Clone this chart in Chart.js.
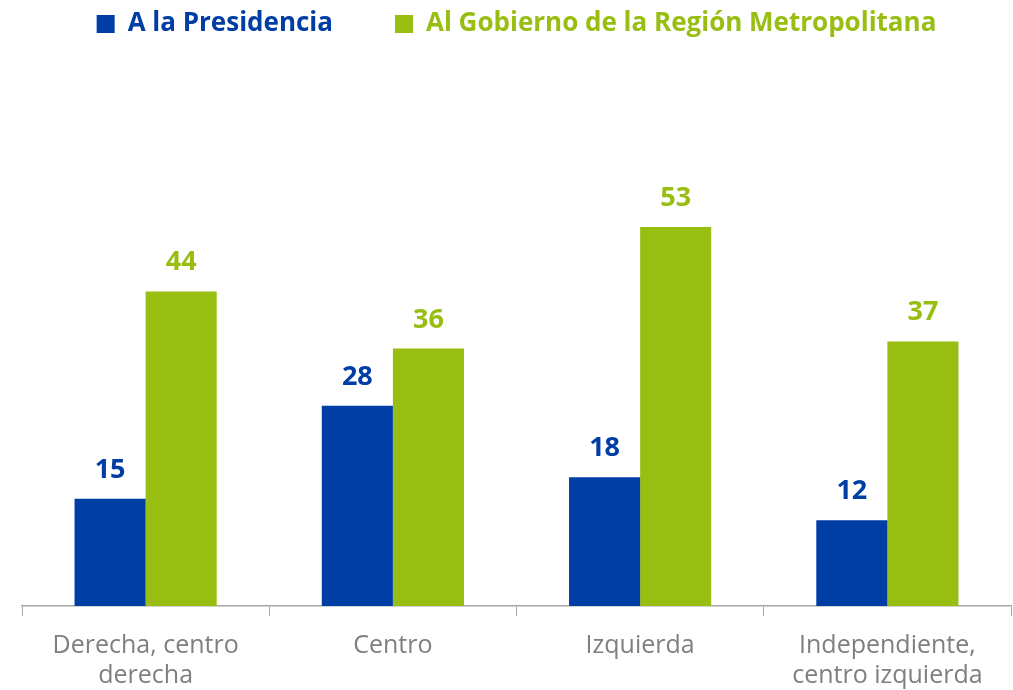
<!DOCTYPE html>
<html>
<head>
<meta charset="utf-8">
<script src="https://cdn.jsdelivr.net/npm/chart.js@4"></script>
<style>
  html, body { margin: 0; padding: 0; background: #fff; }
  #wrap { width: 1013px; height: 690px; }
</style>
</head>
<body>
<div id="wrap"><canvas id="chart"></canvas></div>
<script>
const categories = [['Derecha, centro', 'derecha'], 'Centro', 'Izquierda', ['Independiente,', 'centro izquierda']];
const seriesNames = ['A la Presidencia', 'Al Gobierno de la Región Metropolitana'];
const presidencia = [15, 28, 18, 12];
const gobiernoRM = [44, 36, 53, 37];

const BLUE = '#003DA5';
const GREEN = '#97BE11';
const FONT = '"Open Sans", Lato, sans-serif';

// bar value labels
const valueLabels = {
    id: 'valueLabels',
    afterDatasetsDraw(chart) {
        const ctx = chart.ctx;
        ctx.save();
        ctx.textAlign = 'center';
        ctx.textBaseline = 'alphabetic';
        ctx.font = 'bold 27px ' + FONT;
        chart.data.datasets.forEach((ds, i) => {
            chart.getDatasetMeta(i).data.forEach((bar, j) => {
                ctx.fillStyle = ds.backgroundColor;
                ctx.fillText(ds.data[j], bar.x, bar.y - 21);
            });
        });
        ctx.restore();
    }
};

// push the plot down below the legend
const legendGap = {
    id: 'legendGap',
    beforeInit(chart) {
        const fit = chart.legend.fit;
        chart.legend.fit = function () {
            fit.bind(chart.legend)();
            this.height += 130;
        };
    }
};

new Chart(document.getElementById('chart'), {
    type: 'bar',
    data: {
        labels: categories,
        datasets: [
            { label: seriesNames[0], data: presidencia, backgroundColor: BLUE },
            { label: seriesNames[1], data: gobiernoRM, backgroundColor: GREEN }
        ]
    },
    options: {
        responsive: true,
        maintainAspectRatio: false,
        animation: false,
        layout: { padding: { left: 22, right: 2, top: -51, bottom: -16 } },
        datasets: { bar: { categoryPercentage: 0.575, barPercentage: 1.0 } },
        plugins: {
            legend: {
                position: 'top',
                labels: {
                    font: { family: FONT, size: 26, weight: 'bold' },
                    boxWidth: 18,
                    boxHeight: 18,
                    padding: 62,
                    generateLabels(chart) {
                        return chart.data.datasets.map((ds, i) => ({
                            text: ds.label,
                            fillStyle: ds.backgroundColor,
                            strokeStyle: ds.backgroundColor,
                            lineWidth: 0,
                            fontColor: ds.backgroundColor,
                            datasetIndex: i
                        }));
                    }
                }
            },
            tooltip: { enabled: false }
        },
        scales: {
            x: {
                grid: { display: true, offset: true, drawOnChartArea: false, drawTicks: true, tickLength: 10, color: '#A6A6A6' },
                border: { color: '#A6A6A6', width: 1.5 },
                ticks: { color: '#7F7F7F', font: { family: FONT, size: 25, lineHeight: 1.2 }, padding: 15, maxRotation: 0 }
            },
            y: {
                display: false,
                min: 0,
                max: 60
            }
        }
    },
    plugins: [valueLabels, legendGap]
});
</script>
</body>
</html>
